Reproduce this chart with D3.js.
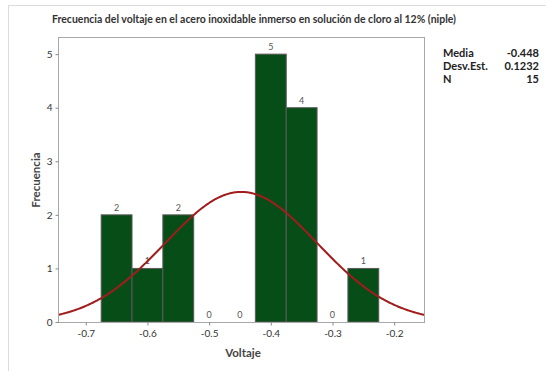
<!DOCTYPE html>
<html>
<head>
<meta charset="utf-8">
<script src="https://cdn.jsdelivr.net/npm/d3@7/dist/d3.min.js"></script>
<style>
  html, body { margin: 0; padding: 0; background: #fff; }
  svg { display: block; }
  text { font-family: Lato, "Open Sans", sans-serif; }
</style>
</head>
<body>
<svg id="chart" width="546" height="371"></svg>
<script>
// Histogram bins (midpoints) and their counts
const binMids = [-0.65, -0.60, -0.55, -0.50, -0.45, -0.40, -0.35, -0.30, -0.25];
const binCounts = [2, 1, 2, 0, 0, 5, 4, 0, 1];
const binWidth = 0.05;

// Axis ticks
const xTicks = [-0.7, -0.6, -0.5, -0.4, -0.3, -0.2];
const yTicks = [0, 1, 2, 3, 4, 5];

// Summary statistics
const statLabels = ["Media", "Desv.Est.", "N"];
const statValues = ["-0.448", "0.1232", "15"];
const mean = -0.448, sd = 0.1232, n = 15;

const svg = d3.select("#chart");

// outer panel edges
svg.append("line").attr("x1", 8).attr("x2", 546).attr("y1", 5.5).attr("y2", 5.5)
  .attr("stroke", "#dcdcdc");
svg.append("line").attr("x1", 8.5).attr("x2", 8.5).attr("y1", 5).attr("y2", 371)
  .attr("stroke", "#dcdcdc");

const plot = { left: 58, right: 425, top: 37, bottom: 322 };

const x = d3.scaleLinear().domain([-0.745, -0.150]).range([plot.left, plot.right]);
const y = d3.scaleLinear().domain([0, 5.32]).range([plot.bottom, plot.top]);

// title
svg.append("text")
  .attr("x", 254).attr("y", 23)
  .attr("text-anchor", "middle")
  .attr("font-size", 11.5).attr("font-weight", "bold").attr("fill", "#333")
  .attr("textLength", 404).attr("lengthAdjust", "spacingAndGlyphs")
  .text("Frecuencia del voltaje en el acero inoxidable inmerso en solución de cloro al 12% (niple)");

// clip for curve
svg.append("clipPath").attr("id", "plotClip")
  .append("rect")
  .attr("x", plot.left).attr("y", plot.top)
  .attr("width", plot.right - plot.left).attr("height", plot.bottom - plot.top);

// bars
const bins = binMids.map((m, i) => ({ mid: m, count: binCounts[i] }));
svg.append("g").selectAll("rect").data(bins).join("rect")
  .attr("x", d => x(d.mid - binWidth / 2))
  .attr("width", d => x(d.mid + binWidth / 2) - x(d.mid - binWidth / 2))
  .attr("y", d => y(d.count))
  .attr("height", d => y(0) - y(d.count))
  .attr("fill", "#064d17")
  .attr("stroke", "#5a5a5a")
  .attr("stroke-width", 1);

// value labels
svg.append("g").selectAll("text").data(bins).join("text")
  .attr("x", d => x(d.mid))
  .attr("y", d => y(d.count) - 4)
  .attr("text-anchor", "middle")
  .attr("font-size", 9).attr("fill", "#555")
  .text(d => d.count);

// fitted normal curve scaled to counts
const scale = n * binWidth;
const curvePts = d3.range(-0.76, -0.13, 0.002).map(v => [
  v, scale * Math.exp(-0.5 * ((v - mean) / sd) ** 2) / (sd * Math.sqrt(2 * Math.PI))
]);
svg.append("path")
  .datum(curvePts)
  .attr("clip-path", "url(#plotClip)")
  .attr("fill", "none")
  .attr("stroke", "#a11d1d")
  .attr("stroke-width", 2)
  .attr("d", d3.line().x(d => x(d[0])).y(d => y(d[1])));

// plot frame
svg.append("rect")
  .attr("x", plot.left + 0.5).attr("y", plot.top + 0.5)
  .attr("width", plot.right - plot.left - 1).attr("height", plot.bottom - plot.top)
  .attr("fill", "none").attr("stroke", "#a8a8a8").attr("stroke-width", 1);

// axes
const xAxis = svg.append("g")
  .attr("transform", `translate(0,${plot.bottom + 0.5})`)
  .call(d3.axisBottom(x).tickValues(xTicks).tickSize(3).tickPadding(4)
    .tickFormat(d => d3.format(".1f")(d).replace("−", "-")));
const yAxis = svg.append("g")
  .attr("transform", `translate(${plot.left + 0.5},0)`)
  .call(d3.axisLeft(y).tickValues(yTicks).tickSize(3).tickPadding(3).tickFormat(d3.format("d")));
[xAxis, yAxis].forEach(g => {
  g.select(".domain").remove();
  g.selectAll(".tick line").attr("stroke", "#888");
  g.selectAll(".tick text").attr("fill", "#333").attr("font-size", 10)
    .attr("font-family", "Lato, 'Open Sans', sans-serif");
});

// axis titles
svg.append("text")
  .attr("x", 243).attr("y", 357)
  .attr("text-anchor", "middle")
  .attr("font-size", 11.5).attr("font-weight", "bold").attr("fill", "#444")
  .text("Voltaje");
svg.append("text")
  .attr("transform", "translate(40,180) rotate(-90)")
  .attr("text-anchor", "middle")
  .attr("font-size", 11.5).attr("font-weight", "bold").attr("fill", "#444")
  .text("Frecuencia");

// stats table
const stats = svg.append("g");
statLabels.forEach((lab, i) => {
  stats.append("text")
    .attr("x", 443).attr("y", 57 + i * 13)
    .attr("font-size", 11).attr("font-weight", "bold").attr("fill", "#222")
    .text(lab);
  stats.append("text")
    .attr("x", 539).attr("y", 57 + i * 13)
    .attr("text-anchor", "end")
    .attr("font-size", 11).attr("font-weight", "bold").attr("fill", "#222")
    .text(statValues[i]);
});
</script>
</body>
</html>
